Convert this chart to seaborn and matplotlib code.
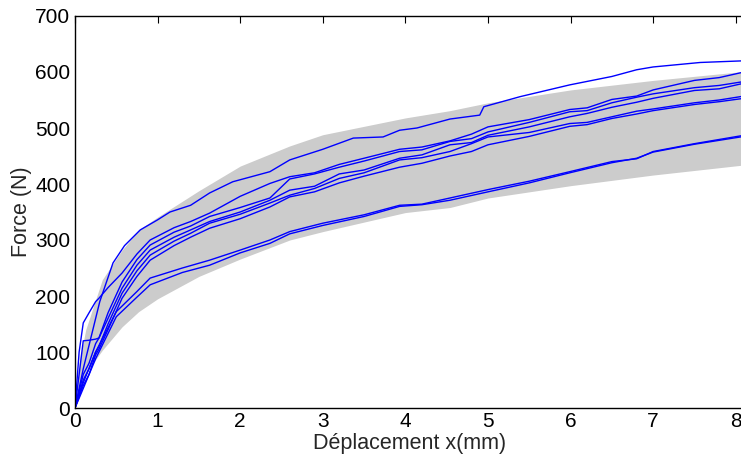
import numpy as np
import pandas as pd
from matplotlib import pyplot as plt
import seaborn as sns

# enveloppe grise (bornes)
band_x = [0, 0.05, 0.13, 0.33, 0.57, 0.77, 1.0, 1.5, 2.0, 2.6, 3.0, 4.0, 4.54, 5.0, 6.0, 7.0, 8.1]
band_hi = [0, 80, 140, 229, 282, 318, 341, 388, 432, 468, 488, 518, 531, 545, 568, 585, 601]
band_lo = [0, 30, 62, 103, 145, 172, 195, 235, 266, 300, 315, 349, 358, 375, 397, 416, 434]

# courbe du haut
xa = [0, 0.1, 0.2, 0.3, 0.46, 0.6, 0.79, 1.0, 1.15, 1.4, 1.63, 1.91, 2.36, 2.6, 3.0, 3.37, 3.73, 3.93,
      4.14, 4.54, 4.9, 4.95, 5.39, 5.99, 6.5, 6.8, 7.0, 7.57, 8.1]
fa = [0, 70, 130, 190, 259, 290, 318, 336, 350, 362, 384, 404, 422, 443, 462, 482, 484, 496,
      500, 516, 523, 538, 556, 577, 592, 604, 609, 617, 620]

# groupe du milieu
xm = [0, 0.05, 0.1, 0.17, 0.25, 0.29, 0.4, 0.57, 0.75, 0.91, 1.2, 1.4, 1.63, 2.0, 2.36, 2.6, 2.9,
      3.2, 3.5, 3.93, 4.2, 4.54, 4.8, 5.0, 5.5, 5.99, 6.2, 6.5, 6.8, 7.0, 7.5, 7.8, 8.1]
fb = [0, 100, 152, 170, 190, 196, 215, 241, 275, 300, 322, 333, 348, 378, 401, 413, 420,
      435, 446, 462, 466, 477, 489, 502, 515, 533, 536, 551, 557, 568, 585, 590, 600]
fc = [0, 60, 120, 121, 123, 125, 170, 225, 265, 291, 314, 325, 342, 358, 375, 409, 418,
      430, 441, 458, 461, 476, 481, 493, 510, 529, 531, 545, 555, 561, 572, 576, 583]
fd = [0, 30, 60, 80, 115, 125, 160, 214, 255, 282, 305, 318, 333, 350, 371, 389, 396,
      418, 425, 446, 452, 470, 474, 487, 502, 520, 526, 537, 546, 553, 567, 570, 580]
fe = [0, 25, 50, 70, 100, 110, 150, 205, 245, 273, 298, 312, 330, 346, 366, 380, 392,
      410, 420, 443, 447, 458, 472, 484, 492, 508, 510, 520, 530, 534, 545, 550, 557]
ff = [0, 20, 40, 60, 95, 105, 140, 196, 235, 264, 290, 305, 321, 338, 359, 377, 386,
      402, 414, 430, 437, 450, 458, 470, 485, 503, 506, 517, 525, 531, 542, 547, 553]

# paire du bas
xg = [0, 0.1, 0.25, 0.5, 0.75, 0.91, 1.3, 1.63, 2.0, 2.36, 2.6, 3.0, 3.5, 3.93, 4.2, 4.54, 5.0,
      5.5, 5.99, 6.5, 6.8, 7.0, 7.5, 8.1]
fg = [0, 45, 100, 172, 208, 232, 250, 264, 282, 300, 315, 330, 345, 362, 364, 375, 390,
      405, 422, 440, 445, 458, 472, 487]
fh = [0, 35, 88, 163, 198, 220, 242, 255, 277, 294, 311, 326, 342, 360, 363, 371, 386,
      402, 420, 438, 446, 457, 471, 485]

curves = [(xa, fa), (xm, fb), (xm, fc), (xm, fd), (xm, fe), (xm, ff), (xg, fg), (xg, fh)]
frames = []
for i, (xs, fs) in enumerate(curves):
    frames.append(pd.DataFrame({"x": xs, "F": fs, "essai": i}))
df = pd.concat(frames, ignore_index=True)

sns.set_style("white")
plt.rcParams['font.family'] = ['Liberation Sans', 'DejaVu Sans']

fig = plt.figure(figsize=(7.41, 4.57), dpi=100)
ax = fig.add_axes([75 / 741, 49 / 457, (744 - 75) / 741, 392 / 457])

ax.fill_between(band_x, band_lo, band_hi, color="#cccccc", linewidth=0)
sns.lineplot(data=df, x="x", y="F", hue="essai", units="essai", estimator=None, sort=False,
             palette=["#0000ff"] * len(curves), legend=False, linewidth=1.0, ax=ax)

ax.set_xlim(0, 8.1)
ax.set_ylim(0, 700)
ax.set_xticks(range(0, 9))
ax.set_yticks(range(0, 701, 100))
ax.tick_params(direction="in", length=5, width=0.8, labelsize=15, top=True, right=False,
               colors="black")
ax.tick_params(axis="x", pad=3)
for s in ax.spines.values():
    s.set_color("black")
    s.set_linewidth(1.0)
ax.set_xlabel("Déplacement x(mm)", fontsize=15.5, labelpad=1)
ax.set_ylabel("Force (N)", fontsize=15.5, labelpad=2)

fig.savefig("out.png", dpi=100)
